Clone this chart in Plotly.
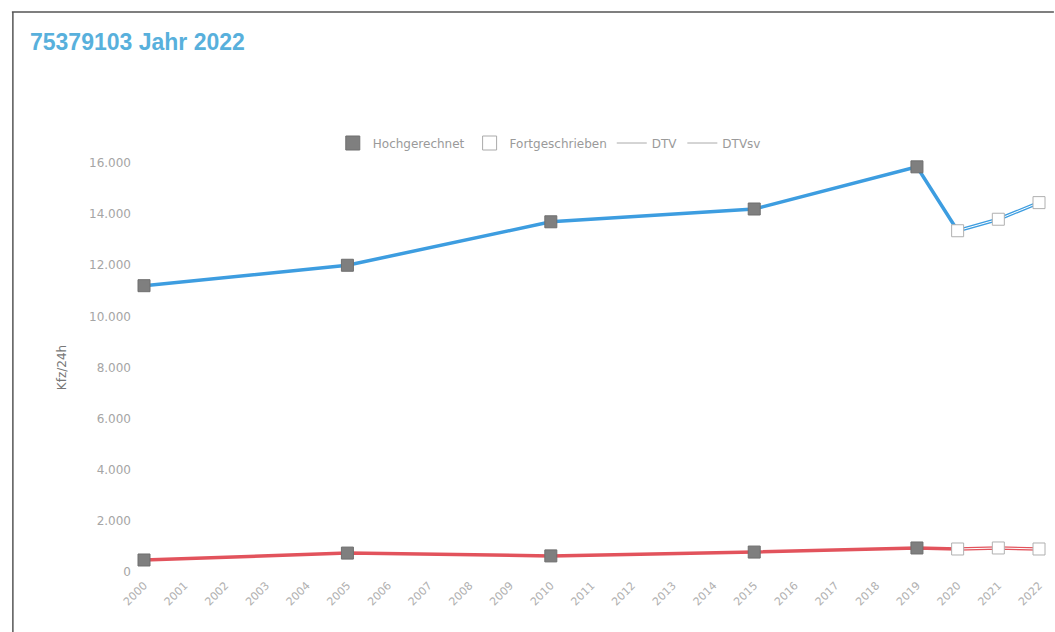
import plotly.graph_objects as go

years_all = list(range(2000, 2023))
years_hoch = [2000, 2005, 2010, 2015, 2019]
years_fort = [2020, 2021, 2022]
dtv_hoch = [11200, 12000, 13700, 14200, 15850]
dtv_fort = [13350, 13800, 14450]
dtvsv_hoch = [470, 740, 630, 780, 940]
dtvsv_fort = [900, 940, 900]
y_ticks = [0, 2000, 4000, 6000, 8000, 10000, 12000, 14000, 16000]

BLUE = "#3d9de0"
RED = "#e2535c"
GRAY = "#7f7f7f"
FONT = "DejaVu Sans, Liberation Sans, Arial, sans-serif"

fig = go.Figure()


def add_series(hoch, fort, color):
    fig.add_trace(go.Scatter(x=years_hoch + years_fort[:1], y=hoch + fort[:1], mode="lines",
                             line=dict(color=color, width=3.5), showlegend=False,
                             hoverinfo="skip", cliponaxis=False))
    fig.add_trace(go.Scatter(x=years_fort, y=fort, mode="lines",
                             line=dict(color=color, width=3.5), showlegend=False,
                             hoverinfo="skip", cliponaxis=False))
    fig.add_trace(go.Scatter(x=years_fort, y=fort, mode="lines",
                             line=dict(color="#ffffff", width=1), showlegend=False,
                             hoverinfo="skip", cliponaxis=False))
    fig.add_trace(go.Scatter(x=years_hoch, y=hoch, mode="markers",
                             marker=dict(symbol="square", size=12, color=GRAY,
                                         line=dict(color="#6f6f6f", width=1)),
                             showlegend=False, cliponaxis=False))
    fig.add_trace(go.Scatter(x=years_fort, y=fort, mode="markers",
                             marker=dict(symbol="square", size=12, color="#ffffff",
                                         line=dict(color="#b0b0b0", width=1)),
                             showlegend=False, cliponaxis=False))


add_series(dtv_hoch, dtv_fort, BLUE)
add_series(dtvsv_hoch, dtvsv_fort, RED)

fig.add_trace(go.Scatter(x=[None], y=[None], mode="markers", name="Hochgerechnet",
                         marker=dict(symbol="square", size=14, color=GRAY,
                                     line=dict(color="#6f6f6f", width=1))))
fig.add_trace(go.Scatter(x=[None], y=[None], mode="markers", name="Fortgeschrieben",
                         marker=dict(symbol="square", size=14, color="#ffffff",
                                     line=dict(color="#aaaaaa", width=1))))
fig.add_trace(go.Scatter(x=[None], y=[None], mode="lines", name="DTV",
                         line=dict(color="#aaaaaa", width=1)))
fig.add_trace(go.Scatter(x=[None], y=[None], mode="lines", name="DTVsv",
                         line=dict(color="#aaaaaa", width=1)))

L, R, T, B = 144, 10, 163, 60
W, H = 1055, 632
pw = W - L - R
ph = H - T - B


def px_x(px):
    return (px - L) / pw


def px_y(py):
    return (H - B - py) / ph


fig.update_layout(
    width=W, height=H,
    margin=dict(l=L, r=R, t=T, b=B),
    paper_bgcolor="white", plot_bgcolor="white",
    separators=",.",
    font=dict(family=FONT, color="#999999", size=12),
    title=dict(text="<b>75379103 Jahr 2022</b>", xref="container", yref="container",
               x=30 / W, y=1 - 42 / H, xanchor="left", yanchor="middle",
               font=dict(size=23, color="#58b0dc", family="Liberation Sans, Arial, sans-serif")),
    legend=dict(orientation="h", x=px_x(552), y=px_y(143), xanchor="center", yanchor="middle",
                font=dict(size=12, color="#9a9a9a", family=FONT), itemwidth=30,
                traceorder="normal", bgcolor="rgba(0,0,0,0)"),
    xaxis=dict(range=[2000, 2022], tickmode="array", tickvals=years_all,
               ticktext=[str(y) for y in years_all], tickangle=-45,
               showgrid=False, zeroline=False, showline=False, ticklabelstandoff=4,
               tickfont=dict(size=11, color="#b0b0b0", family=FONT)),
    yaxis=dict(range=[0, 16000], tickmode="array", tickvals=y_ticks,
               tickformat=",d", showgrid=False, zeroline=False, showline=False,
               ticklabelstandoff=12,
               tickfont=dict(size=12, color="#a5a5a5", family=FONT),
               title=dict(text="Kfz/24h", font=dict(size=12, color="#777777", family=FONT),
                          standoff=19)),
    shapes=[
        dict(type="line", xref="paper", yref="paper", x0=px_x(11), x1=px_x(1060),
             y0=px_y(12), y1=px_y(12), line=dict(color="#555555", width=1.5)),
        dict(type="line", xref="paper", yref="paper", x0=px_x(12), x1=px_x(12),
             y0=px_y(12), y1=px_y(640), line=dict(color="#555555", width=1.5)),
    ],
)

fig.write_html("out.html")
